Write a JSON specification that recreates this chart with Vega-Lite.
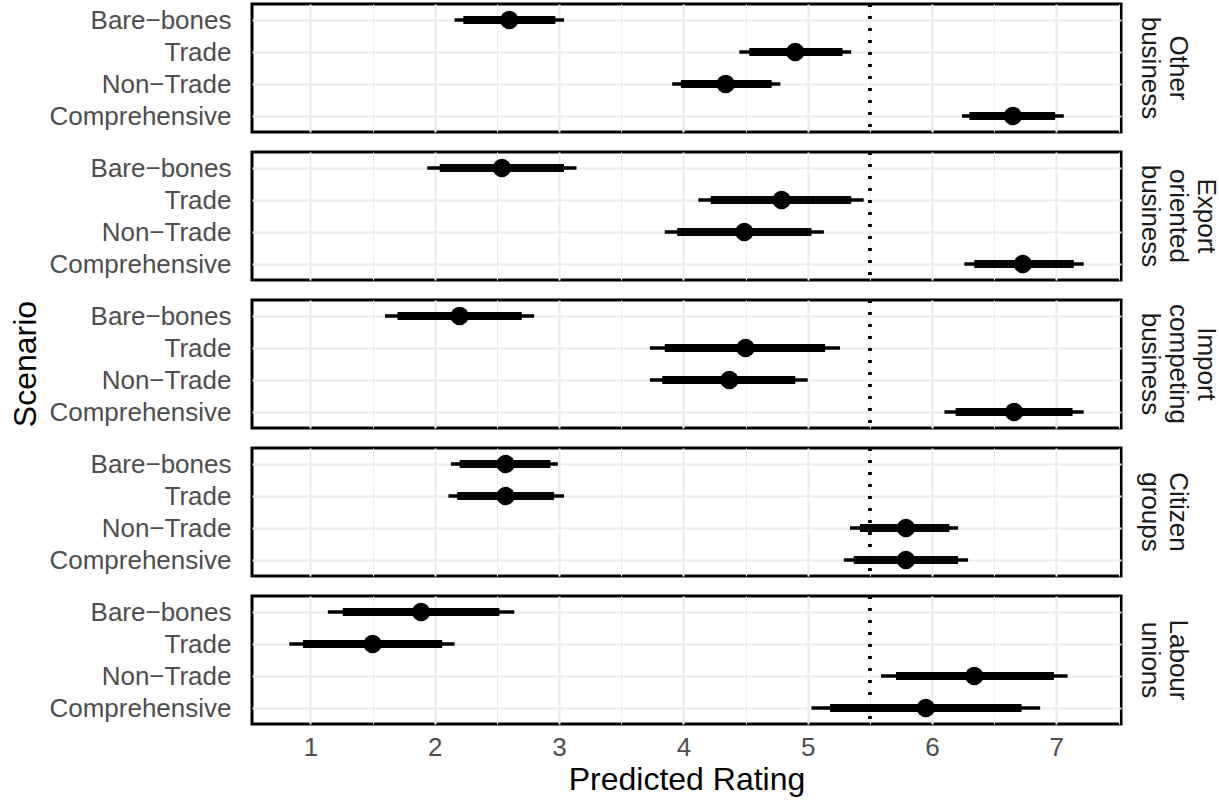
{
  "$schema": "https://vega.github.io/schema/vega-lite/v6.json",
  "background": "white",
  "padding": {"left": 10, "top": 1, "right": 2, "bottom": 2},
  "bounds": "flush",
  "config": {
    "font": "Liberation Sans",
    "view": {"stroke": "black", "strokeWidth": 3},
    "axis": {
      "domain": false,
      "ticks": false,
      "gridColor": "#ebebeb",
      "labelFont": "Liberation Sans",
      "labelFontSize": 26,
      "labelColor": "#4d4d4d",
      "labelLimit": 0,
      "titleFont": "Liberation Sans",
      "titleFontSize": 32,
      "titleFontWeight": "normal",
      "titleColor": "black"
    },
    "header": {
      "labelFont": "Liberation Sans",
      "labelFontSize": 26,
      "labelColor": "#1a1a1a",
      "titleFont": "Liberation Sans",
      "titleFontSize": 32,
      "titleFontWeight": "normal",
      "titleColor": "black"
    }
  },
  "data": {
    "values": [
      {"group": "Other business", "scenario": "Bare−bones", "est": 2.60, "lo": 2.16, "hi": 3.04, "ilo": 2.23, "ihi": 2.97},
      {"group": "Other business", "scenario": "Trade", "est": 4.90, "lo": 4.45, "hi": 5.35, "ilo": 4.53, "ihi": 5.28},
      {"group": "Other business", "scenario": "Non−Trade", "est": 4.34, "lo": 3.91, "hi": 4.78, "ilo": 3.98, "ihi": 4.71},
      {"group": "Other business", "scenario": "Comprehensive", "est": 6.65, "lo": 6.24, "hi": 7.06, "ilo": 6.30, "ihi": 6.99},
      {"group": "Export oriented business", "scenario": "Bare−bones", "est": 2.54, "lo": 1.94, "hi": 3.14, "ilo": 2.04, "ihi": 3.04},
      {"group": "Export oriented business", "scenario": "Trade", "est": 4.79, "lo": 4.12, "hi": 5.45, "ilo": 4.22, "ihi": 5.35},
      {"group": "Export oriented business", "scenario": "Non−Trade", "est": 4.49, "lo": 3.85, "hi": 5.13, "ilo": 3.95, "ihi": 5.03},
      {"group": "Export oriented business", "scenario": "Comprehensive", "est": 6.73, "lo": 6.26, "hi": 7.22, "ilo": 6.34, "ihi": 7.14},
      {"group": "Import competing business", "scenario": "Bare−bones", "est": 2.20, "lo": 1.60, "hi": 2.80, "ilo": 1.70, "ihi": 2.70},
      {"group": "Import competing business", "scenario": "Trade", "est": 4.50, "lo": 3.73, "hi": 5.26, "ilo": 3.85, "ihi": 5.14},
      {"group": "Import competing business", "scenario": "Non−Trade", "est": 4.37, "lo": 3.73, "hi": 5.00, "ilo": 3.83, "ihi": 4.90},
      {"group": "Import competing business", "scenario": "Comprehensive", "est": 6.66, "lo": 6.10, "hi": 7.22, "ilo": 6.19, "ihi": 7.13},
      {"group": "Citizen groups", "scenario": "Bare−bones", "est": 2.57, "lo": 2.13, "hi": 2.99, "ilo": 2.20, "ihi": 2.93},
      {"group": "Citizen groups", "scenario": "Trade", "est": 2.57, "lo": 2.11, "hi": 3.04, "ilo": 2.18, "ihi": 2.96},
      {"group": "Citizen groups", "scenario": "Non−Trade", "est": 5.79, "lo": 5.34, "hi": 6.21, "ilo": 5.42, "ihi": 6.14},
      {"group": "Citizen groups", "scenario": "Comprehensive", "est": 5.79, "lo": 5.29, "hi": 6.29, "ilo": 5.37, "ihi": 6.21},
      {"group": "Labour unions", "scenario": "Bare−bones", "est": 1.89, "lo": 1.14, "hi": 2.64, "ilo": 1.26, "ihi": 2.52},
      {"group": "Labour unions", "scenario": "Trade", "est": 1.50, "lo": 0.83, "hi": 2.16, "ilo": 0.94, "ihi": 2.06},
      {"group": "Labour unions", "scenario": "Non−Trade", "est": 6.34, "lo": 5.59, "hi": 7.09, "ilo": 5.71, "ihi": 6.98},
      {"group": "Labour unions", "scenario": "Comprehensive", "est": 5.95, "lo": 5.03, "hi": 6.87, "ilo": 5.18, "ihi": 6.72}
    ]
  },
  "facet": {
    "row": {
      "field": "group",
      "type": "nominal",
      "sort": ["Other business", "Export oriented business", "Import competing business", "Citizen groups", "Labour unions"],
      "title": "Scenario",
      "header": {
        "titleOrient": "left",
        "titlePadding": -5,
        "labelOrient": "right",
        "labelAngle": 90,
        "labelAlign": "center",
        "labelBaseline": "middle",
        "labelLineHeight": 28,
        "labelPadding": 3,
        "labelExpr": "split(datum.value, ' ')"
      }
    }
  },
  "spacing": 20,
  "spec": {
    "width": 869,
    "height": 128,
    "encoding": {
      "y": {
        "field": "scenario",
        "type": "nominal",
        "sort": ["Bare−bones", "Trade", "Non−Trade", "Comprehensive"],
        "scale": {"type": "point", "padding": 0.5},
        "title": null,
        "axis": {"labelPadding": 21, "grid": true, "gridWidth": 2}
      }
    },
    "layer": [
      {
        "mark": {"type": "rule", "color": "black", "strokeWidth": 3.3, "strokeCap": "butt"},
        "encoding": {
          "x": {
            "field": "lo",
            "type": "quantitative",
            "title": "Predicted Rating",
            "scale": {"domain": [0.53, 7.52], "nice": false, "zero": false},
            "axis": {
              "values": [1, 1.5, 2, 2.5, 3, 3.5, 4, 4.5, 5, 5.5, 6, 6.5, 7, 7.5],
              "labelExpr": "datum.value % 1 === 0 ? format(datum.value, 'd') : ''",
              "gridWidth": {"condition": {"test": "datum.value % 1 === 0", "value": 2}, "value": 1},
              "labelPadding": 10,
              "titlePadding": 4
            }
          },
          "x2": {"field": "hi"}
        }
      },
      {
        "mark": {"type": "rule", "color": "black", "strokeWidth": 8, "strokeCap": "butt"},
        "encoding": {
          "x": {"field": "ilo", "type": "quantitative"},
          "x2": {"field": "ihi"}
        }
      },
      {
        "mark": {"type": "rule", "color": "black", "strokeWidth": 3, "strokeDash": [3, 9]},
        "encoding": {
          "x": {"datum": 5.5, "type": "quantitative"},
          "y": null
        }
      },
      {
        "mark": {"type": "circle", "color": "black", "opacity": 1, "size": 336},
        "encoding": {
          "x": {"field": "est", "type": "quantitative"}
        }
      }
    ]
  }
}
